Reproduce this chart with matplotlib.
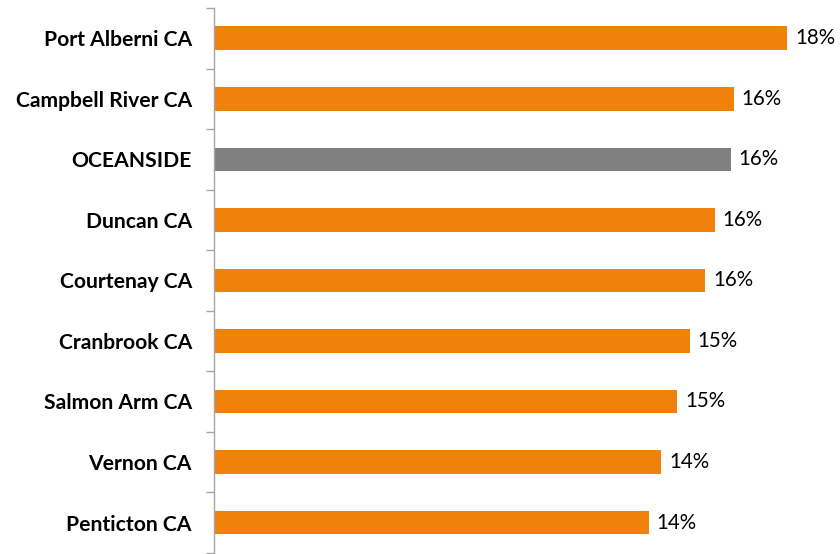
import matplotlib
matplotlib.use("Agg")
import matplotlib.pyplot as plt
import numpy as np

categories = ["Port Alberni CA", "Campbell River CA", "OCEANSIDE", "Duncan CA",
              "Courtenay CA", "Cranbrook CA", "Salmon Arm CA", "Vernon CA", "Penticton CA"]
values = [18.2, 16.5, 16.4, 15.9, 15.6, 15.1, 14.7, 14.2, 13.8]
labels = ["18%", "16%", "16%", "16%", "16%", "15%", "15%", "14%", "14%"]
highlight = "OCEANSIDE"

W, H = 840, 554
fig = plt.figure(figsize=(W/100, H/100), dpi=100)
ax = fig.add_axes([214/W, 0, (W-214)/W, (H-8)/H])

n = len(categories)
y = np.arange(n)
colors = ["#808080" if c == highlight else "#F0810B" for c in categories]
ax.barh(y, values, height=0.39, color=colors)
ax.set_ylim(n - 0.5 + 0.02, -0.5)
ax.set_xlim(0, 19.87)

for yi, v, lab in zip(y, values, labels):
    ax.text(v + 0.25, yi, lab, va="center", ha="left", fontsize=14.8,
            family="Lato", color="#000000")

ax.set_yticks(y)
ax.set_yticklabels(categories, fontsize=15.2, fontweight="bold", family="Lato")
ax.tick_params(axis="y", which="major", length=0, pad=16)
ax.set_yticks(np.arange(-0.5, n, 1), minor=True)
ax.tick_params(axis="y", which="minor", length=6, width=1, color="#A6A6A6")
ax.set_xticks([])
for s in ["top", "right", "bottom"]:
    ax.spines[s].set_visible(False)
ax.spines["left"].set_color("#A6A6A6")
ax.spines["left"].set_linewidth(1)

fig.savefig("out.png", dpi=100)
